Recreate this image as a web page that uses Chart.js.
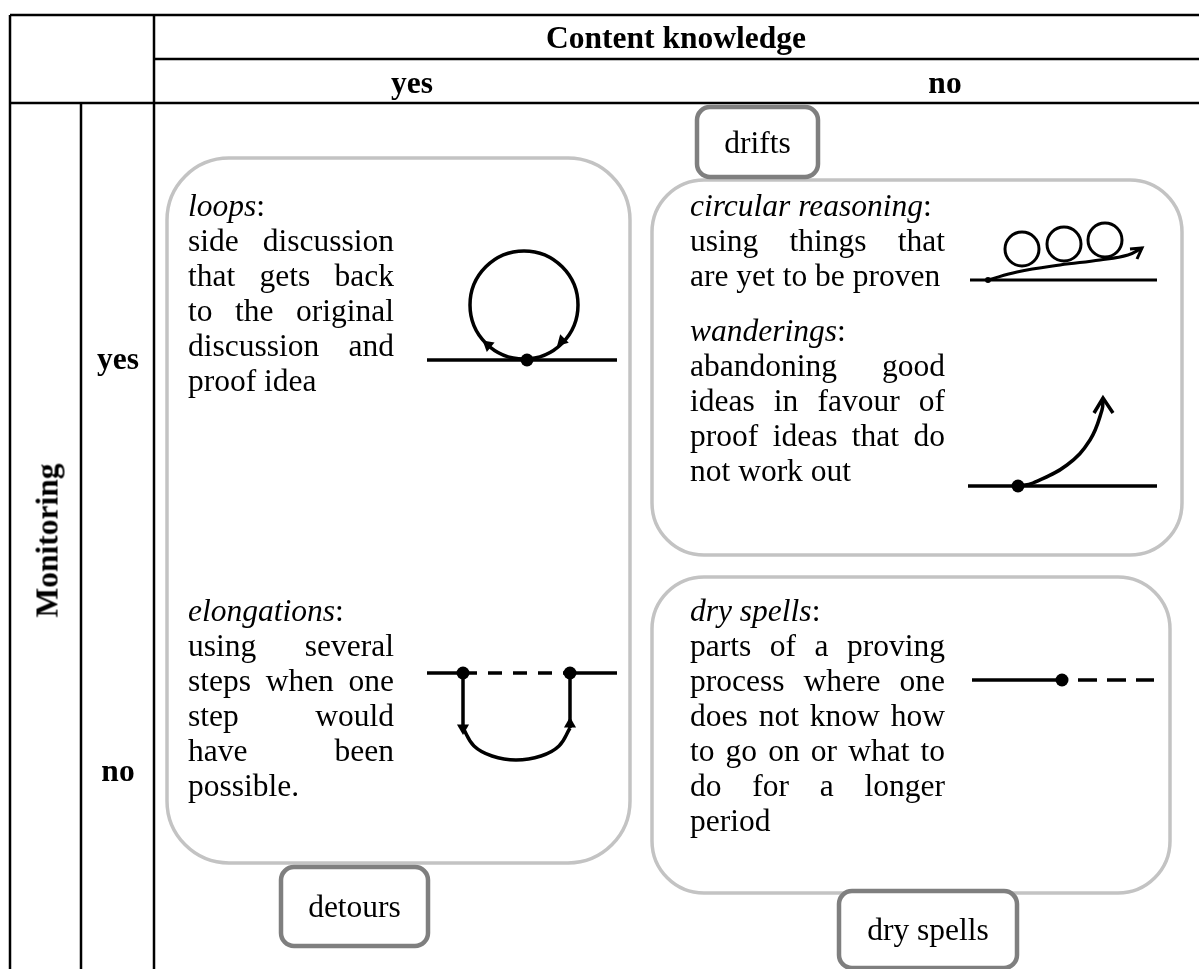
<!DOCTYPE html>
<html>
<head>
<meta charset="utf-8">
<script src="https://cdn.jsdelivr.net/npm/chart.js@4.4.1/dist/chart.umd.min.js"></script>
<style>
  body { margin: 0; background: #fff; }
  #wrap { position: relative; width: 1199px; height: 969px; overflow: hidden; }
  #diagram { position: absolute; left: 0; top: 0; }
  .t { position: absolute; font-family: "Liberation Serif", "Times New Roman", serif; font-size: 31.5px;
       line-height: 35px; color: #000; white-space: nowrap; }
  .j { text-align: justify; text-align-last: justify; white-space: normal; }
  .b { font-weight: bold; }
  .c { text-align: center; }
</style>
</head>
<body>
<div id="wrap">
  <canvas id="diagram" width="1199" height="969"></canvas>
</div>
<script>
// table rules (x1, y1, x2, y2)
const tableRules = [
  [10, 15, 1199, 15], [154, 59, 1199, 59], [10, 103, 1199, 103],
  [10, 15, 10, 969], [81, 103, 81, 969], [154, 15, 154, 969]
];

// headers
const colHeader = "Content knowledge";
const colLabels = ["yes", "no"];
const rowHeader = "Monitoring";
const rowLabels = ["yes", "no"];

// rounded category boxes (x0, y0, x1, y1, radius)
const softBoxes = [
  [167, 158, 630, 863, 62],
  [652, 180, 1182, 555, 52],
  [652, 577, 1170, 893, 52]
];
// grey label boxes
const labelNames = ["drifts", "detours", "dry spells"];
const labelBoxes = [
  [697, 107, 818, 177, 13],
  [281, 867, 428, 946, 13],
  [839, 891, 1017, 968, 13]
];

// text blocks: left x, width, first line centre, lines ("|" = justified)
const blocks = [
  { x: 188, w: 206, y: 205, lines: ["<i>loops</i>:", "|side discussion", "|that gets back", "|to the original", "|discussion and", "proof idea"] },
  { x: 188, w: 206, y: 610, lines: ["<i>elongations</i>:", "|using several", "|steps when one", "|step would", "|have been", "possible."] },
  { x: 690, w: 255, y: 205, lines: ["<i>circular reasoning</i>:", "|using things that", "are yet to be proven"] },
  { x: 690, w: 255, y: 330, lines: ["<i>wanderings</i>:", "|abandoning good", "|ideas in favour of", "|proof ideas that do", "not work out"] },
  { x: 690, w: 255, y: 610, lines: ["<i>dry spells</i>:", "|parts of a proving", "|process where one", "|does not know how", "|to go on or what to", "|do for a longer", "period"] }
];

// icon: loops
const loopBase = [[427, 360], [617, 360]];
const loopRing = [[524, 305]];
const loopDot = [[527, 360]];
const loopArrows = [[488, 345, -50], [562, 341, -135]];

// icon: elongations
const elongLeft = [[427, 673], [463, 673]];
const elongDash = [[463, 673], [570, 673]];
const elongRight = [[570, 673], [617, 673]];
const elongDown = [[463, 673], [463, 728]];
const elongUp = [[570, 673], [570, 728]];
const elongArc = [[463, 728], [474, 746], [492, 756], [516, 760], [541, 756], [559, 746], [570, 728]];
const elongDots = [[463, 673], [570, 673]];
const elongArrows = [[463, 728, 180], [570, 724, 0]];

// icon: circular reasoning
const circBase = [[970, 280], [1157, 280]];
const circCurve = [[988, 280], [1017, 272], [1060, 265], [1100, 260], [1128, 255], [1142, 248]];
const circRings = [[1022, 249], [1064, 244], [1105, 240]];
const circHead = [[1130, 249], [1142, 248], [1137, 259]];
const circDot = [[988, 280]];

// icon: wanderings
const wandBase = [[968, 486], [1157, 486]];
const wandCurve = [[1018, 486], [1033, 483], [1067, 465], [1090, 440], [1102, 410], [1103, 399]];
const wandHead = [[1094, 413], [1103, 398], [1113, 413]];
const wandDot = [[1018, 486]];

// icon: dry spells
const drySolid = [[972, 680], [1062, 680]];
const dryDash = [[1078, 680], [1154, 680]];
const dryDot = [[1062, 680]];

const pts = a => a.map(p => ({ x: p[0], y: p[1] }));
const datasets = [];

function line(points, opts) {
  datasets.push(Object.assign({
    type: 'line', data: pts(points), borderColor: '#000', borderWidth: 3.5,
    pointRadius: 0, fill: false, tension: 0, borderCapStyle: 'butt'
  }, opts || {}));
}
function marks(points, opts) {
  datasets.push(Object.assign({
    type: 'scatter', data: pts(points), borderColor: '#000', backgroundColor: '#000',
    borderWidth: 0, pointStyle: 'circle'
  }, opts || {}));
}

tableRules.forEach(r => line([[r[0], r[1]], [r[2], r[3]]], { borderWidth: 2.5 }));

line(loopBase);
marks(loopRing, { pointRadius: 54, borderWidth: 3.5, backgroundColor: 'rgba(0,0,0,0)' });
marks(loopDot, { pointRadius: 6.5 });
loopArrows.forEach(a => marks([a], { pointStyle: 'triangle', pointRadius: 7, rotation: a[2] }));

line(elongLeft); line(elongDash, { borderDash: [14, 11] }); line(elongRight);
line(elongDown); line(elongUp);
line(elongArc, { tension: 0.4 });
marks(elongDots, { pointRadius: 6.5 });
elongArrows.forEach(a => marks([a], { pointStyle: 'triangle', pointRadius: 7, rotation: a[2] }));

line(circBase, { borderWidth: 3 });
line(circCurve, { tension: 0.4, borderWidth: 3 });
marks(circRings, { pointRadius: 17, borderWidth: 3, backgroundColor: 'rgba(0,0,0,0)' });
line(circHead, { borderWidth: 3 });
marks(circDot, { pointRadius: 3 });

line(wandBase);
line(wandCurve, { tension: 0.4 });
line(wandHead);
marks(wandDot, { pointRadius: 6.5 });

line(drySolid); line(dryDash, { borderDash: [19, 10] });
marks(dryDot, { pointRadius: 6.5 });

function drawBoxes(chart, list, color, width, fill) {
  const { ctx, scales: { x, y } } = chart;
  ctx.save();
  ctx.strokeStyle = color;
  ctx.lineWidth = width;
  list.forEach(b => {
    const x0 = x.getPixelForValue(b[0]), x1 = x.getPixelForValue(b[2]);
    const y0 = y.getPixelForValue(b[1]), y1 = y.getPixelForValue(b[3]);
    ctx.beginPath();
    ctx.roundRect(x0, y0, x1 - x0, y1 - y0, b[4]);
    if (fill) { ctx.fillStyle = '#fff'; ctx.fill(); }
    ctx.stroke();
  });
  ctx.restore();
}

const boxPlugin = {
  id: 'boxes',
  beforeDatasetsDraw(chart) { drawBoxes(chart, softBoxes, '#c3c3c3', 3.5, false); },
  afterDatasetsDraw(chart) { drawBoxes(chart, labelBoxes, '#7f7f7f', 4.5, true); }
};

new Chart(document.getElementById('diagram'), {
  type: 'scatter',
  data: { datasets },
  options: {
    responsive: false,
    animation: false,
    events: [],
    layout: { padding: 0, autoPadding: false },
    scales: {
      x: { type: 'linear', min: 0, max: 1199, display: false },
      y: { type: 'linear', min: 0, max: 969, reverse: true, display: false }
    },
    plugins: { legend: { display: false }, tooltip: { enabled: false } }
  },
  plugins: [boxPlugin]
});

// text
const wrap = document.getElementById('wrap');
function text(html, cls, css) {
  const d = document.createElement('div');
  d.className = 't ' + cls;
  d.innerHTML = html;
  Object.assign(d.style, css);
  wrap.appendChild(d);
  return d;
}
function centred(html, cls, cx, cy) {
  return text(html, cls + ' c', { left: (cx - 200) + 'px', width: '400px', top: (cy - 17.5) + 'px' });
}

centred(colHeader, 'b', 676, 37);
centred(colLabels[0], 'b', 412, 82);
centred(colLabels[1], 'b', 945, 82);
centred(rowLabels[0], 'b', 118, 358);
centred(rowLabels[1], 'b', 118, 770);
const rh = centred(rowHeader, 'b', 47, 540);
rh.style.transform = 'rotate(-90deg)';

blocks.forEach(b => {
  b.lines.forEach((l, i) => {
    const just = l.startsWith('|');
    text(just ? l.slice(1) : l, just ? 'j' : '', {
      left: b.x + 'px', width: b.w + 'px', top: (b.y - 17.5 + i * 35) + 'px'
    });
  });
});

labelNames.forEach((n, i) => {
  const b = labelBoxes[i];
  centred(n, '', (b[0] + b[2]) / 2, (b[1] + b[3]) / 2);
});
</script>
</body>
</html>
